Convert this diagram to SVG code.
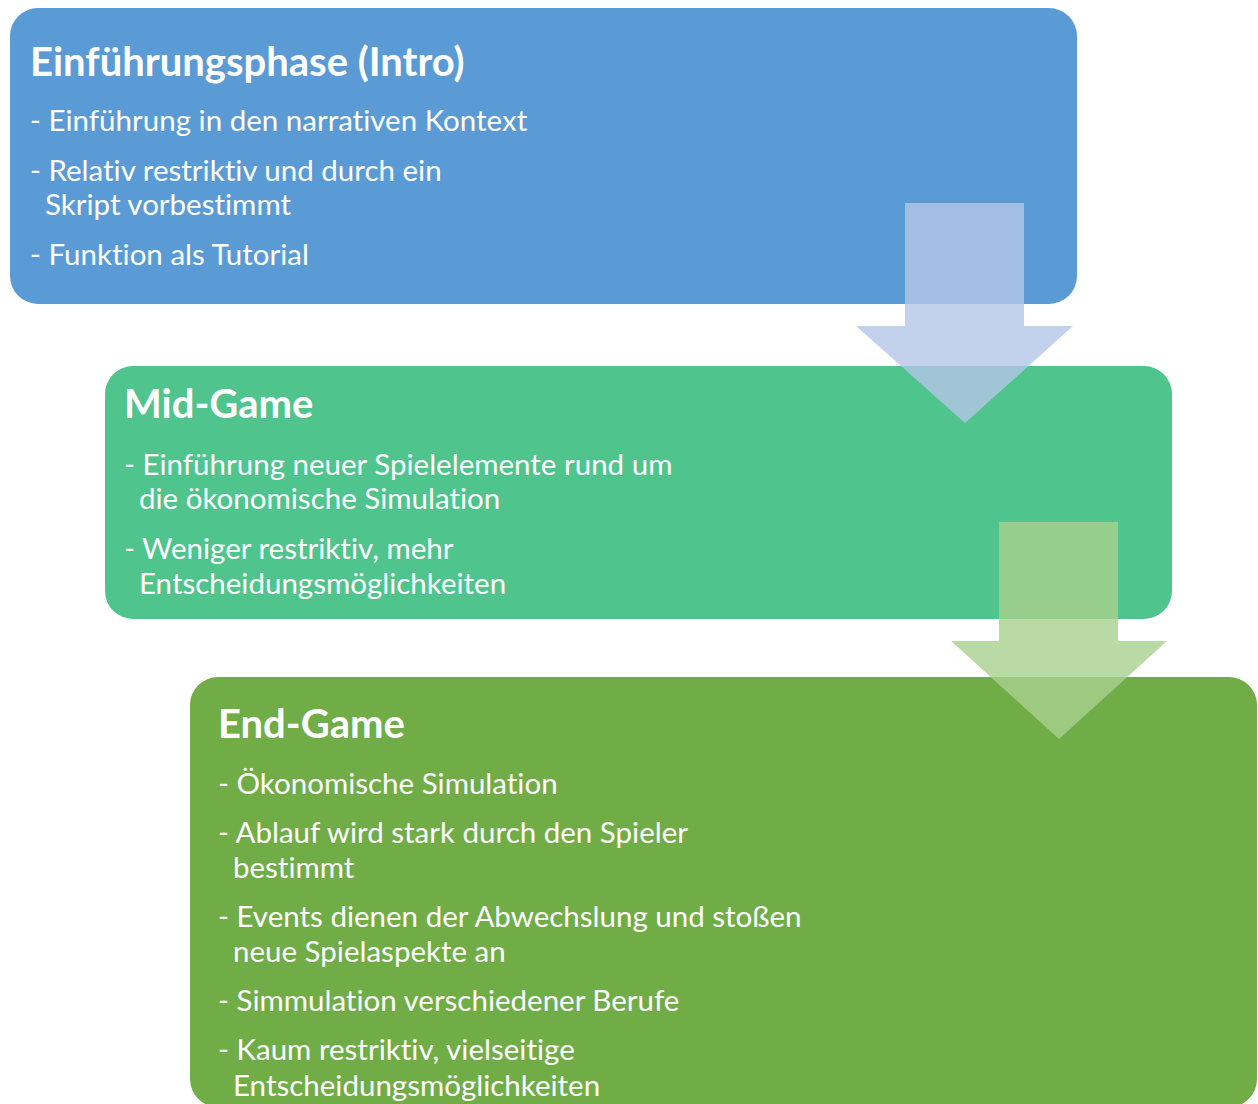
<svg xmlns="http://www.w3.org/2000/svg" width="1258" height="1104" viewBox="0 0 1258 1104">
  <style>
    text { font-family: "Lato", "Liberation Sans", sans-serif; fill: #ffffff; font-variant-ligatures: none; font-feature-settings: "liga" 0, "clig" 0; }
    .title { font-weight: 700; font-size: 40px; }
    .item { font-size: 29.5px; }
    .intro { fill: #5B9BD5; }
    .mid { fill: #4FC48C; }
    .end { fill: #70AD47; }
    .arrow-blue { fill: #B4C7E7; fill-opacity: 0.8; }
    .arrow-green { fill: #A9D18E; fill-opacity: 0.8; }
  </style>
  <rect width="1258" height="1104" fill="#ffffff"/>

  <!-- Phase 1 -->
  <g id="intro">
    <rect class="intro" x="10" y="8" width="1067" height="296" rx="28" ry="28"/>
    <text class="title" x="30" y="76">Einführungsphase (Intro)</text>
    <text class="item" x="30" y="131">- Einführung in den narrativen Kontext</text>
    <text class="item" x="30" y="181">- Relativ restriktiv und durch ein</text>
    <text class="item" x="45" y="215">Skript vorbestimmt</text>
    <text class="item" x="30" y="265">- Funktion als Tutorial</text>
  </g>

  <!-- Phase 2 -->
  <g id="mid-game">
    <rect class="mid" x="105" y="366" width="1067" height="253" rx="28" ry="28"/>
    <text class="title" x="124" y="418">Mid-Game</text>
    <text class="item" x="124" y="475">- Einführung neuer Spielelemente rund um</text>
    <text class="item" x="139" y="509">die ökonomische Simulation</text>
    <text class="item" x="124" y="559">- Weniger restriktiv, mehr</text>
    <text class="item" x="139" y="594">Entscheidungsmöglichkeiten</text>
  </g>

  <!-- Phase 3 -->
  <g id="end-game">
    <rect class="end" x="190" y="677" width="1067" height="430" rx="28" ry="28"/>
    <text class="title" x="218" y="738">End-Game</text>
    <text class="item" x="218" y="794">- Ökonomische Simulation</text>
    <text class="item" x="218" y="843">- Ablauf wird stark durch den Spieler</text>
    <text class="item" x="233" y="878">bestimmt</text>
    <text class="item" x="218" y="927">- Events dienen der Abwechslung und stoßen</text>
    <text class="item" x="233" y="962">neue Spielaspekte an</text>
    <text class="item" x="218" y="1011">- Simmulation verschiedener Berufe</text>
    <text class="item" x="218" y="1060">- Kaum restriktiv, vielseitige</text>
    <text class="item" x="233" y="1096">Entscheidungsmöglichkeiten</text>
  </g>

  <!-- Down arrows between phases -->
  <g id="connectors">
    <path class="arrow-blue" d="M905,203 H1024 V326 H1073 L965,423 L856,326 H905 Z"/>
    <path class="arrow-green" d="M999,522 H1118 V641 H1167 L1059,739 L951,641 H999 Z"/>
  </g>
</svg>
